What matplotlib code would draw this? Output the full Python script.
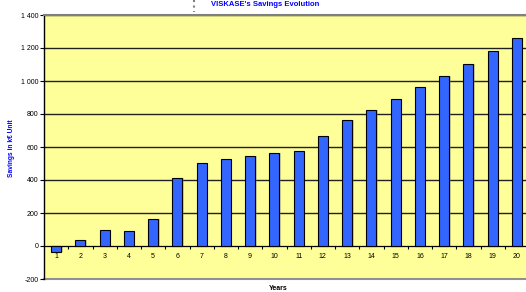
import numpy as np
import matplotlib.pyplot as plt
from matplotlib.lines import Line2D

plt.rcParams['font.family'] = ['Liberation Sans', 'DejaVu Sans']

years = [str(i) for i in range(1, 21)]
savings = [-35, 36, 95, 89, 162, 410, 501, 529, 543, 562,
           576, 668, 762, 826, 891, 962, 1030, 1105, 1180, 1259]

W, H = 526, 292
fig = plt.figure(figsize=(W / 100, H / 100), dpi=100)
ax = fig.add_axes([44 / W, 13 / H, 485 / W, 264 / H])
ax.set_facecolor('#FFFF99')

x = np.arange(len(years))
ax.bar(x + 0.06, savings, width=0.41, color='#808060', alpha=0.35, zorder=2)
ax.bar(x, savings, width=0.41, color='#3366FF', edgecolor='black',
       linewidth=0.8, zorder=3)

ax.set_xlim(-0.5, len(years) - 0.5)
ax.set_ylim(-200, 1400)
ax.set_yticks(range(-200, 1401, 200))
ax.set_yticklabels([f'{v:,}'.replace(',', ' ') for v in range(-200, 1401, 200)])
ax.tick_params(axis='y', labelsize=5, length=3, width=0.8, pad=1)
for v in range(200, 1401, 200):
    ax.axhline(v, color='#202020', linewidth=1.0, zorder=1)

ax.spines['bottom'].set_position(('data', 0))
ax.spines['bottom'].set_linewidth(0.9)
ax.spines['left'].set_linewidth(1.0)
ax.spines['right'].set_visible(False)
ax.spines['top'].set_color('#808080')
ax.spines['top'].set_linewidth(1.5)
ax.set_xticks(x)
ax.set_xticklabels(years)
ax.set_xticks(x[:-1] + 0.5, minor=True)
ax.tick_params(axis='x', which='major', length=0, labelsize=5, pad=5)
ax.tick_params(axis='x', which='minor', length=2.5, width=0.8)
ax.axhline(-200, color='#909090', linewidth=1.5, clip_on=False, zorder=1)

fig.text(265 / W, 1 - 1 / H, "VISKASE's Savings Evolution", color='#0000FF',
         fontsize=5.5, fontweight='bold', ha='center', va='top')
fig.text(12 / W, 1 - 148 / H, 'Savings in k€ Unit', color='#0000FF',
         fontsize=4.8, fontweight='bold', rotation=90, ha='center', va='center')
fig.text(278 / W, 1 - 285 / H, 'Years', color='black', fontsize=5,
         fontweight='bold', ha='center', va='top')
fig.add_artist(Line2D([194 / W, 194 / W], [1, 1 - 12 / H], color='#808080',
                      linewidth=1.5, linestyle=':', transform=fig.transFigure))

fig.savefig('out.png', dpi=100)
